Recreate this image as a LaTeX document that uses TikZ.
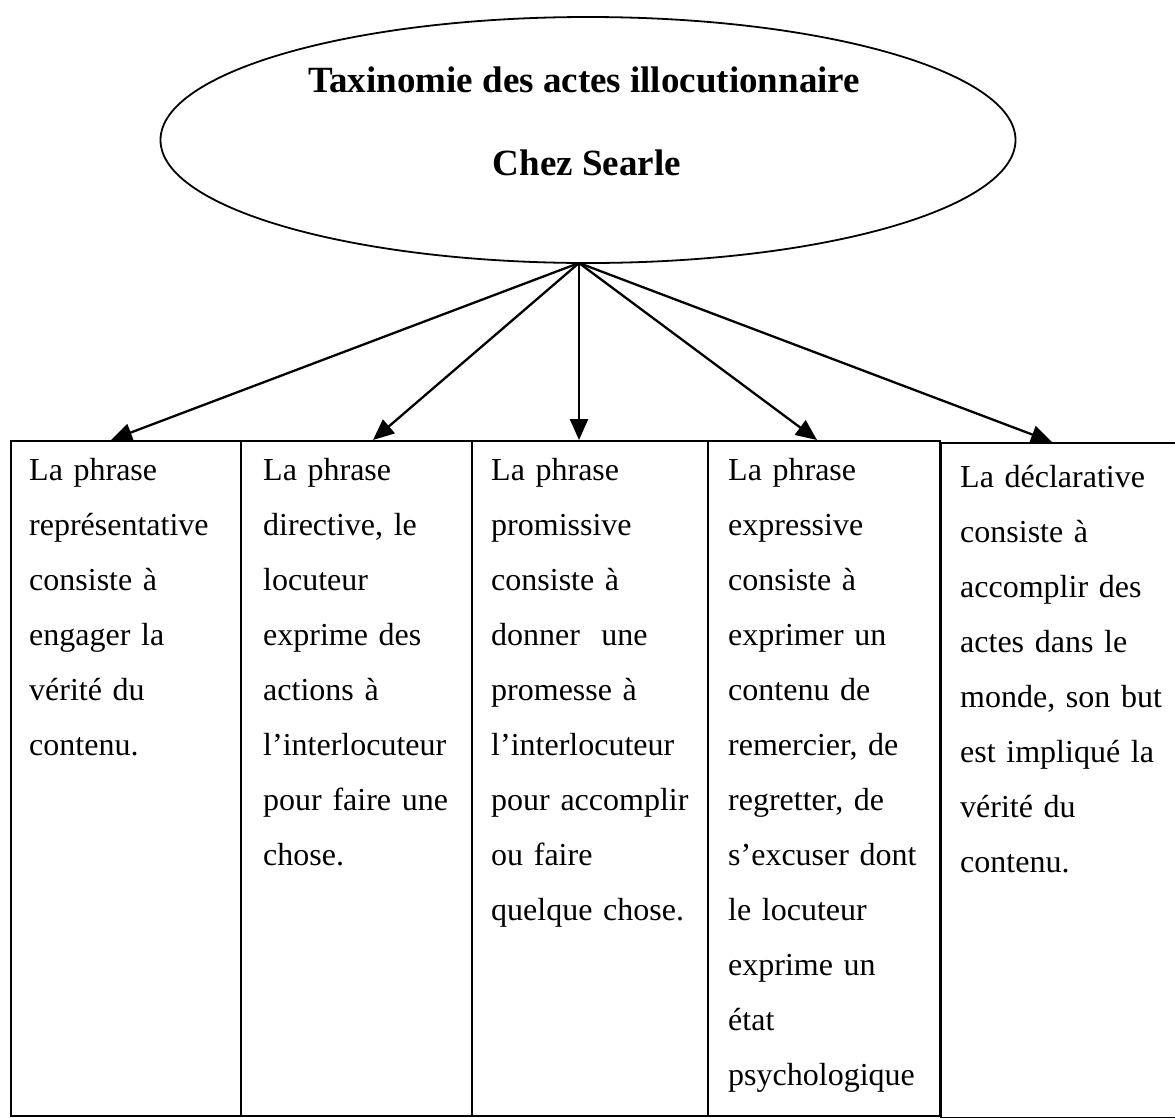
\documentclass[tikz,border=0pt]{standalone}
\usepackage{fontspec}
\setmainfont{Liberation Serif}
\usetikzlibrary{shapes.geometric,arrows.meta,calc}

\tikzset{
  boite/.style={draw, line width=2pt, rectangle, anchor=north west, inner sep=0pt, minimum height=675pt},
  texte/.style={anchor=base west, align=left, text width=220pt, inner sep=0pt, font=\fontsize{32}{55}\selectfont},
  titre/.style={anchor=base, inner sep=0pt, font=\bfseries\fontsize{37}{44}\selectfont},
  fleche/.style={line width=2.3pt, -{Triangle[length=21pt,width=18pt]}},
}

\begin{document}
\begin{tikzpicture}[x=1pt,y=-1pt]
    \useasboundingbox (0,0) rectangle (1175,1117);

    % Ellipse
    \node[draw, ellipse, line width=1.8pt, minimum width=855pt, minimum height=246pt, inner sep=0pt] (taxo) at (588,140) {};
    \node[titre] (titre) at (584,92) {Taxinomie des actes illocutionnaire};
    \node[titre] (searle) at (587,175) {Chez Searle};

    % Boxes
    \node[boite, minimum width=230pt] (rep) at (10,440) {};
    \node[boite, minimum width=231pt] (dir) at (240,440) {};
    \node[boite, minimum width=236pt] (pro) at (471,440) {};
    \node[boite, minimum width=232pt] (exp) at (707,440) {};
    \node[boite, minimum width=245pt] (dec) at (940,442) {};

    % Box texts
    \node[texte] (trep) at (29,480) {La phrase\\représentative\\consiste à\\engager la\\vérité du\\contenu.};
    \node[texte] (tdir) at (263,480) {La phrase\\directive, le\\locuteur\\exprime des\\actions à\\l’interlocuteur\\pour faire une\\chose.};
    \node[texte] (tpro) at (491,480) {La phrase\\promissive\\consiste à\\donner~ une\\promesse à\\l’interlocuteur\\pour accomplir\\ou faire\\quelque chose.};
    \node[texte] (texp) at (728,480) {La phrase\\expressive\\consiste à\\exprimer un\\contenu de\\remercier, de\\regretter, de\\s’excuser dont\\le locuteur\\exprime un\\état\\psychologique};
    \node[texte] (tdec) at (960,487) {La déclarative\\consiste à\\accomplir des\\actes dans le\\monde, son but\\est impliqué la\\vérité du\\contenu.};

    % Arrows
    \coordinate (hub) at (579,263);
    \coordinate (c1) at (111,440);
    \coordinate (c2) at (373,440);
    \coordinate (c3) at (579,440);
    \coordinate (c4) at (817,440);
    \coordinate (c5) at (1052,442);
    \foreach \c in {c1,c2,c3,c4,c5}
        \draw[fleche] (hub) -- (\c);
\end{tikzpicture}
\end{document}
